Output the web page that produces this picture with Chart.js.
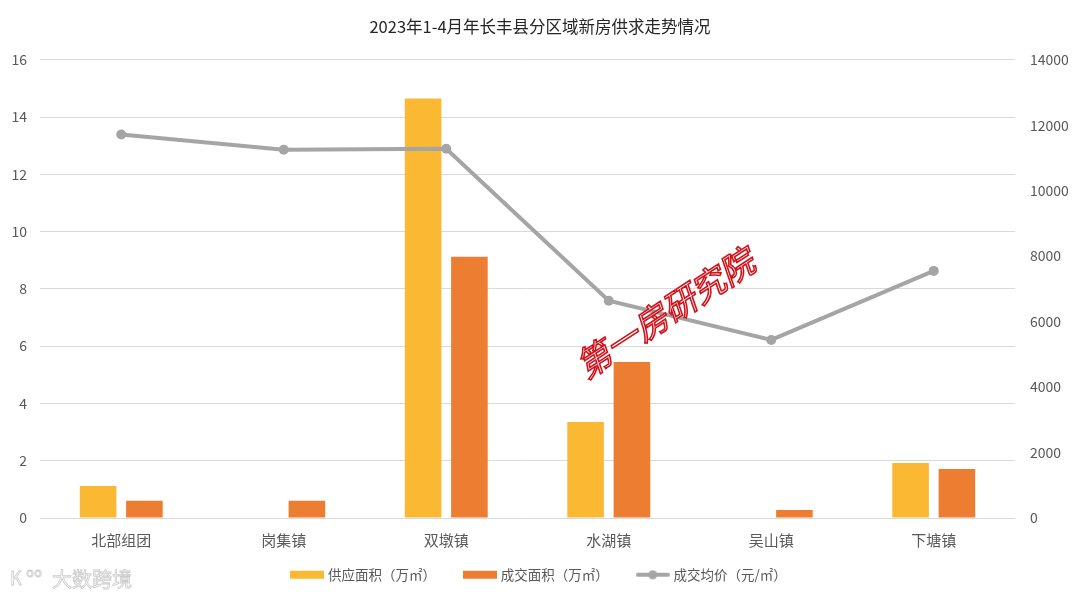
<!DOCTYPE html>
<html><head><meta charset="utf-8">
<script src="https://cdn.jsdelivr.net/npm/chart.js@4/dist/chart.umd.min.js"></script>
<style>html,body{margin:0;padding:0;background:#fff}#wrap{width:1080px;height:599px;position:relative}</style>
</head><body><div id="wrap"><canvas id="c" width="1080" height="599"></canvas></div>
<script>
const categories = ['北部组团','岗集镇','双墩镇','水湖镇','吴山镇','下塘镇'];
const supplyArea = [1.12, 0, 14.65, 3.35, 0, 1.92];
const dealArea = [0.6, 0.6, 9.12, 5.45, 0.28, 1.71];
const avgPrice = [11720, 11250, 11280, 6640, 5440, 7550];
const leftTicks = [0,2,4,6,8,10,12,14,16];
const rightTicks = [0,2000,4000,6000,8000,10000,12000,14000];
const seriesNames = ['供应面积（万㎡）','成交面积（万㎡）','成交均价（元/㎡）'];
const titleText = '2023年1-4月年长丰县分区域新房供求走势情况';

const C_SUP = '#FBB832', C_DEAL = '#ED7D31', C_LINE = '#A5A5A5';
const FONT = "'Noto Sans CJK SC','Noto Sans',sans-serif";

function swatch(kind, color){
  const cv = document.createElement('canvas');
  cv.width = 34; cv.height = 10;
  const g = cv.getContext('2d');
  if (kind === 'bar') { g.fillStyle = color; g.fillRect(0,1,34,8); }
  else {
    g.strokeStyle = color; g.lineWidth = 4; g.lineCap='round';
    g.beginPath(); g.moveTo(2,5); g.lineTo(32,5); g.stroke();
    g.fillStyle = color; g.beginPath(); g.arc(17,5,4.5,0,Math.PI*2); g.fill();
  }
  return cv;
}
const swatches = [swatch('bar',C_SUP), swatch('bar',C_DEAL), swatch('line',C_LINE)];

const X_BOTTOM = 558;
const LEGEND_TOP = 538;
const fixLegend = {
  id:'fixLegend',
  beforeLayout(chart){
    const lg = chart.legend;
    if (lg && !lg._patched){
      const orig = lg.fit;
      lg.fit = function(){ orig.call(this); this.height = 599 - X_BOTTOM; };
      lg._patched = true;
    }
  },
  afterLayout(chart){
    const lg = chart.legend;
    if (lg){ lg.top = LEGEND_TOP; lg.bottom = 599; lg.height = 599 - LEGEND_TOP; }
  }
};

const watermark = {
  id:'watermark',
  afterDraw(chart){
    const ctx = chart.ctx;
    ctx.save();
    ctx.translate(665, 313);
    ctx.rotate(-33*Math.PI/180);
    ctx.font = "italic 34px " + FONT;
    ctx.textAlign='center'; ctx.textBaseline='middle';
    ctx.lineWidth = 1.6; ctx.strokeStyle = '#D0121B';
    ctx.fillStyle = 'rgba(255,255,255,0.85)';
    ctx.fillText('第一房研究院',0,0);
    ctx.strokeText('第一房研究院',0,0);
    ctx.restore();
    ctx.save();
    ctx.font = "20px " + FONT;
    ctx.textBaseline='middle'; ctx.textAlign='left';
    ctx.lineWidth = 0.8; ctx.strokeStyle='rgba(190,190,190,0.8)';
    ctx.fillStyle='#ffffff';
    ctx.fillText('大数跨境',52,579); ctx.strokeText('大数跨境',52,579);
    ctx.font = "18px " + FONT;
    ctx.fillText('K',10,578); ctx.strokeText('K',10,578);
    ctx.font = "13px " + FONT;
    ctx.strokeText('oo',26,572);
    ctx.restore();
  }
};

new Chart(document.getElementById('c'), {
  data: {
    labels: categories,
    datasets: [
      {type:'bar', label:seriesNames[0], data:supplyArea, backgroundColor:C_SUP, yAxisID:'y', order:2,
       categoryPercentage:0.57, barPercentage:0.79},
      {type:'bar', label:seriesNames[1], data:dealArea, backgroundColor:C_DEAL, yAxisID:'y', order:2,
       categoryPercentage:0.57, barPercentage:0.79},
      {type:'line', label:seriesNames[2], data:avgPrice, borderColor:C_LINE, backgroundColor:C_LINE, borderWidth:4,
       pointRadius:5, pointHoverRadius:5, pointBackgroundColor:C_LINE, pointBorderWidth:0, yAxisID:'y1', order:1, tension:0}
    ]
  },
  options: {
    responsive:false, animation:false,
    layout:{padding:{left:0,right:0,top:0,bottom:0}},
    plugins:{
      title:{display:true, text:titleText, color:'#262626', font:{family:FONT,size:16.5,weight:'normal'}, padding:{top:17,bottom:23}},
      legend:{position:'bottom', labels:{
        font:{family:FONT,size:13.5}, color:'#595959', usePointStyle:true, pointStyleWidth:28, padding:30,
        generateLabels(chart){
          return seriesNames.map((n,i)=>({text:n, pointStyle:swatches[i], datasetIndex:i, hidden:false, fontColor:'#595959', lineWidth:0, strokeStyle:'transparent', fillStyle:'transparent'}));
        }
      }},
      tooltip:{enabled:false}
    },
    scales:{
      x:{grid:{display:false}, border:{display:false},
         afterFit(s){s.height = X_BOTTOM - 518;},
         ticks:{color:'#595959', font:{family:FONT,size:15}, padding:5}},
      y:{position:'left', min:0, max:16, afterBuildTicks(s){s.ticks = leftTicks.map(v=>({value:v}));},
         afterFit(s){s.width=40;},
         grid:{color:'#D9D9D9', lineWidth:1, drawTicks:false}, border:{display:false},
         ticks:{color:'#595959', font:{family:FONT,size:14}, padding:13}},
      y1:{position:'right', min:0, max:14000, afterBuildTicks(s){s.ticks = rightTicks.map(v=>({value:v}));},
         afterFit(s){s.width=65;},
         grid:{display:false, drawTicks:false}, border:{display:false},
         ticks:{color:'#595959', font:{family:FONT,size:14}, padding:15, callback:v=>String(v)}}
    }
  },
  plugins:[fixLegend, watermark]
});
</script></body></html>
